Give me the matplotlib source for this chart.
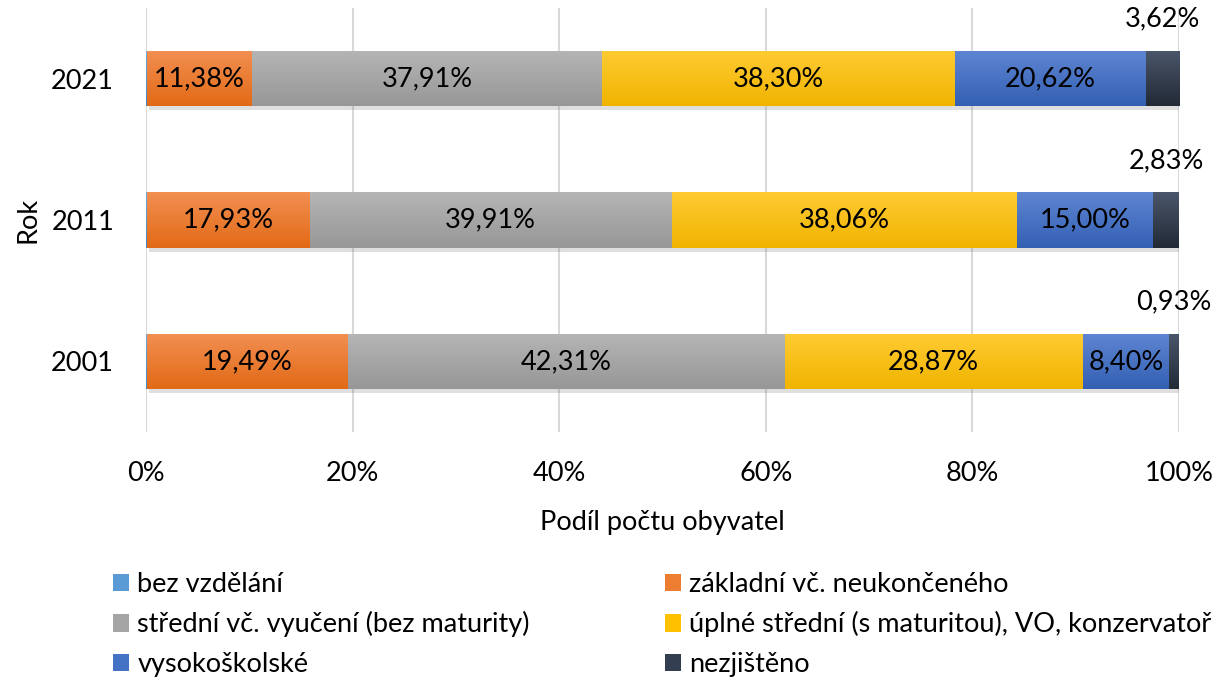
import numpy as np
import matplotlib
matplotlib.use("Agg")
import matplotlib.pyplot as plt
import matplotlib.patheffects as pe
from matplotlib.colors import LinearSegmentedColormap
from matplotlib.patches import Patch

plt.rcParams['font.family'] = ['Lato', 'DejaVu Sans']

# *** Data ***#
years = ["2001", "2011", "2021"]
categories = ["bez vzdělání", "základní vč. neukončeného",
              "střední vč. vyučení (bez maturity)",
              "úplné střední (s maturitou), VO, konzervatoř",
              "vysokoškolské", "nezjištěno"]
bez_vzdelani = [0.10, 0.10, 0.10]
zakladni = [19.49, 17.93, 11.38]
stredni = [42.31, 39.91, 37.91]
uplne_stredni = [28.87, 38.06, 38.30]
vysokoskolske = [8.40, 15.00, 20.62]
nezjisteno = [0.93, 2.83, 3.62]

series = [bez_vzdelani, zakladni, stredni, uplne_stredni, vysokoskolske, nezjisteno]
show_label = [False, True, True, True, True, True]

# (top, mid, bottom) colours of the gradient fills
colors = [("#74ABDE", "#5B9BD5", "#4485C4"),
          ("#F28F52", "#ED7D31", "#E26A16"),
          ("#B5B5B5", "#A5A5A5", "#979797"),
          ("#FFCB33", "#FFC000", "#F0B400"),
          ("#5E85D2", "#4472C4", "#3460B3"),
          ("#4A566A", "#333F50", "#222A36")]

# *** Plot ***#
fig = plt.figure(figsize=(12.32, 6.82), dpi=100)
ax = fig.add_axes([146 / 1232, 1 - 432 / 682, 1033 / 1232, 424 / 682])

vals = np.array(series, dtype=float)
totals = vals.sum(axis=0)
shares = vals / totals * 100
y = np.arange(len(years))
left = np.zeros(len(years))
bar_h = 0.39

for i, cat in enumerate(categories):
    bars = ax.barh(y, shares[i], left=left, height=bar_h, color=colors[i][1],
                   zorder=2,
                   path_effects=[pe.SimplePatchShadow(offset=(2, -3), shadow_rgbFace="#808080", alpha=0.25),
                                 pe.Normal()])
    cmap = LinearSegmentedColormap.from_list("g%d" % i, [colors[i][0], colors[i][2]])
    grad = np.linspace(0, 1, 64).reshape(-1, 1)
    for j, b in enumerate(bars):
        x0, y0 = b.get_x(), b.get_y()
        im = ax.imshow(grad, cmap=cmap, aspect="auto", origin="upper",
                       extent=[x0, x0 + b.get_width(), y0, y0 + b.get_height()],
                       zorder=3)
        im.set_clip_path(b)
        if show_label[i]:
            label = ("%.2f%%" % vals[i][j]).replace(".", ",")
            cx = x0 + b.get_width() / 2
            ty = y[j] + 0.42 if cat == "nezjištěno" else y[j]
            ax.text(cx, ty, label, ha="center", va="center",
                    fontsize=19.5, color="black", zorder=5)
    left = left + shares[i]

ax.set_xlim(0, 100)
ax.set_ylim(-0.5, 2.5)
ax.set_xticks(np.arange(0, 101, 20))
ax.set_xticklabels(["%d%%" % v for v in range(0, 101, 20)])
ax.set_yticks(y)
ax.set_yticklabels(years)
ax.tick_params(axis="both", length=0, labelsize=19.5)
ax.tick_params(axis="x", pad=21)
ax.tick_params(axis="y", pad=23)
ax.grid(axis="x", color="#D9D9D9", linewidth=1.5, zorder=0)
ax.set_axisbelow(True)
for s in ax.spines.values():
    s.set_visible(False)

ax.set_xlabel("Podíl počtu obyvatel", fontsize=19.5, labelpad=17)
ax.set_ylabel("Rok", fontsize=19.5, labelpad=8)

# legend in two columns
handles = [Patch(facecolor=c[1]) for c in colors]
leg_kw = dict(loc="upper left", frameon=False, fontsize=19.5, handlelength=0.6,
              handleheight=0.6, handletextpad=0.3, labelspacing=0.53,
              borderaxespad=0, borderpad=0)
fig.legend([handles[0], handles[2], handles[4]],
           [categories[0], categories[2], categories[4]],
           bbox_to_anchor=(113 / 1232, 1 - 572 / 682), **leg_kw)
fig.legend([handles[1], handles[3], handles[5]],
           [categories[1], categories[3], categories[5]],
           bbox_to_anchor=(665 / 1232, 1 - 572 / 682), **leg_kw)

fig.savefig("out.png", dpi=100)
